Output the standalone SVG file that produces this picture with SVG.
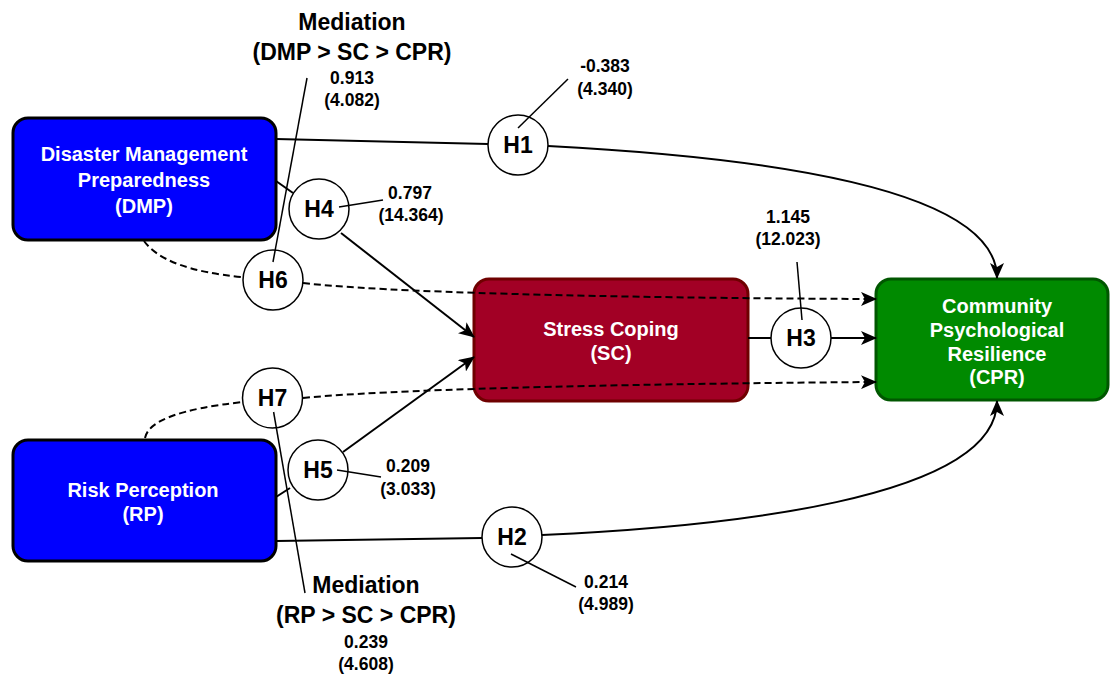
<svg xmlns="http://www.w3.org/2000/svg" width="1110" height="674" viewBox="0 0 1110 674">
<style>
.box{stroke-width:3}
.lbl{font-family:"Liberation Sans",Arial,sans-serif;font-weight:bold;fill:#fff;font-size:20px;text-anchor:middle}
.hyp{fill:#fff;stroke:#000;stroke-width:1.5}
.htx{font-family:"Liberation Sans",Arial,sans-serif;font-weight:bold;fill:#000;font-size:23px;text-anchor:middle}
.con{fill:none;stroke:#000;stroke-width:2}
.dash{stroke-dasharray:7 4}
.lead{fill:none;stroke:#000;stroke-width:1.5}
.val{font-family:"Liberation Sans",Arial,sans-serif;font-weight:bold;fill:#000;font-size:17.5px;text-anchor:middle}
.med{font-family:"Liberation Sans",Arial,sans-serif;font-weight:bold;fill:#000;font-size:23px;text-anchor:middle}
</style>
<defs>
<marker id="arr" markerWidth="16" markerHeight="14" refX="15" refY="7" orient="auto" markerUnits="userSpaceOnUse">
<path d="M0,0 L16,7 L0,14 L4,7 Z" fill="#000"/>
</marker>
</defs>
<rect width="1110" height="674" fill="#fff"/>

<g id="node-DMP">
<rect class="box" x="13" y="118" width="263" height="122" rx="15" fill="#0000FF" stroke="#000"/>
<text class="lbl" x="144" y="161">Disaster Management</text>
<text class="lbl" x="144" y="187">Preparedness</text>
<text class="lbl" x="144" y="213">(DMP)</text>
</g>
<g id="node-RP">
<rect class="box" x="13" y="440" width="263" height="121" rx="15" fill="#0000FF" stroke="#000"/>
<text class="lbl" x="143" y="497">Risk Perception</text>
<text class="lbl" x="143" y="521">(RP)</text>
</g>
<g id="node-SC">
<rect class="box" x="474" y="279" width="274" height="122" rx="15" fill="#A20025" stroke="#6F0000"/>
<text class="lbl" x="611" y="336">Stress Coping</text>
<text class="lbl" x="611" y="360">(SC)</text>
</g>
<g id="node-CPR">
<rect class="box" x="876" y="279" width="232" height="121" rx="15" fill="#008A00" stroke="#005700"/>
<text class="lbl" x="997" y="313">Community</text>
<text class="lbl" x="997" y="337">Psychological</text>
<text class="lbl" x="997" y="361">Resilience</text>
<text class="lbl" x="997" y="384">(CPR)</text>
</g>

<g id="connectors">
<path class="con" d="M276 139 L488 144"/>
<path class="con" d="M548 146 C720 155 997 180 997 278" marker-end="url(#arr)"/>
<path class="con" d="M276 181 L293 193"/>
<path class="con" d="M341 233 L474 337" marker-end="url(#arr)"/>
<path class="con dash" d="M144 241 Q165 270 242 277"/>
<path class="con dash" d="M303 283 C380 292 600 298 876 299" marker-end="url(#arr)"/>
<path class="con" d="M748 338 L771 338"/>
<path class="con" d="M831 338 L876 338" marker-end="url(#arr)"/>
<path class="con dash" d="M145 438 Q150 412 243 402"/>
<path class="con dash" d="M303 398 C380 390 600 384 876 382" marker-end="url(#arr)"/>
<path class="con" d="M276 497 L290 488"/>
<path class="con" d="M343 452 L474 357" marker-end="url(#arr)"/>
<path class="con" d="M276 541 L482 538"/>
<path class="con" d="M542 535 C720 527 997 500 997 401" marker-end="url(#arr)"/>
</g>

<g id="node-H1"><circle class="hyp" cx="518" cy="145" r="30"/><text class="htx" x="518" y="153">H1</text></g>
<g id="node-H4"><circle class="hyp" cx="319" cy="209" r="30"/><text class="htx" x="319" y="217">H4</text></g>
<g id="node-H6"><circle class="hyp" cx="273" cy="280" r="30"/><text class="htx" x="273" y="288">H6</text></g>
<g id="node-H7"><circle class="hyp" cx="272.5" cy="398" r="30"/><text class="htx" x="272.5" y="406">H7</text></g>
<g id="node-H5"><circle class="hyp" cx="318" cy="470" r="30"/><text class="htx" x="318" y="478">H5</text></g>
<g id="node-H2"><circle class="hyp" cx="512" cy="537" r="30"/><text class="htx" x="512" y="545">H2</text></g>
<g id="node-H3"><circle class="hyp" cx="801" cy="338" r="30"/><text class="htx" x="801" y="346">H3</text></g>

<g id="leaders">
<path class="lead" d="M568 79 L518 128"/>
<path class="lead" d="M339 207 L383 200"/>
<path class="lead" d="M307 78 L273 262"/>
<path class="lead" d="M797 262 L802 320"/>
<path class="lead" d="M337 470 L381 477"/>
<path class="lead" d="M511 554 L576 587"/>
<path class="lead" d="M273.6 412 L305 593"/>
</g>

<g id="labels">
<text class="med" x="352" y="30">Mediation</text>
<text class="med" x="352" y="60">(DMP &gt; SC &gt; CPR)</text>
<text class="val" x="352" y="84">0.913</text>
<text class="val" x="352" y="106">(4.082)</text>
<text class="val" x="605" y="72">-0.383</text>
<text class="val" x="605" y="95">(4.340)</text>
<text class="val" x="410" y="199">0.797</text>
<text class="val" x="411" y="221">(14.364)</text>
<text class="val" x="788" y="223">1.145</text>
<text class="val" x="788" y="245">(12.023)</text>
<text class="val" x="408" y="472">0.209</text>
<text class="val" x="408" y="495">(3.033)</text>
<text class="val" x="606" y="588">0.214</text>
<text class="val" x="606" y="610">(4.989)</text>
<text class="med" x="366" y="593">Mediation</text>
<text class="med" x="366" y="623">(RP &gt; SC &gt; CPR)</text>
<text class="val" x="366" y="648">0.239</text>
<text class="val" x="366" y="670">(4.608)</text>
</g>
</svg>
